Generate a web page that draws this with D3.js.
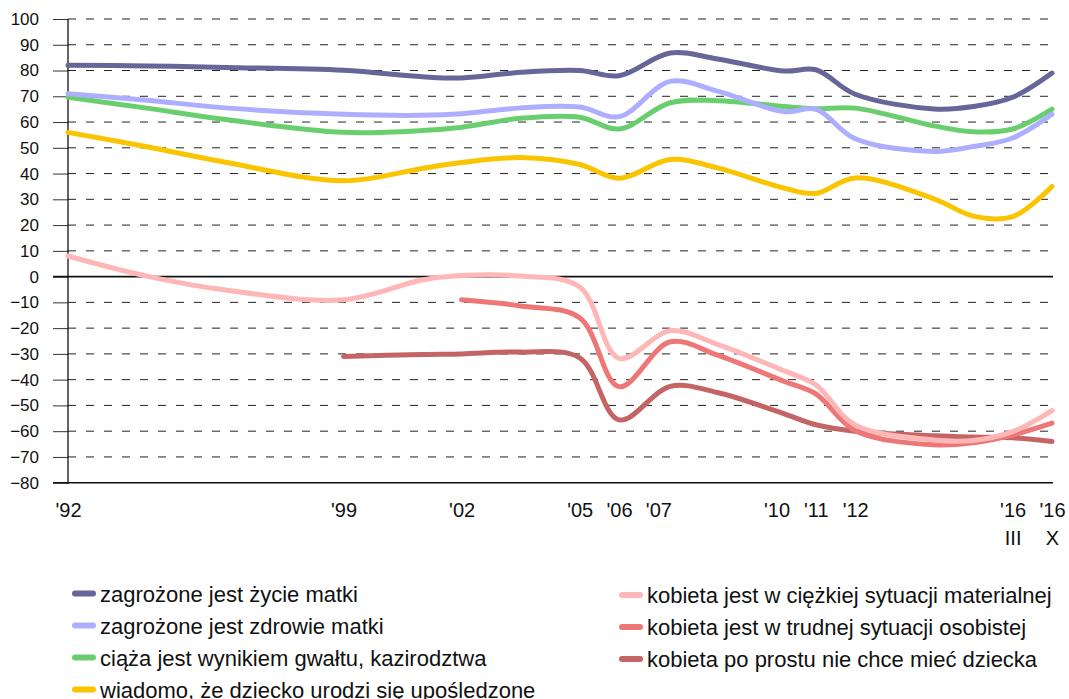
<!DOCTYPE html>
<html>
<head>
<meta charset="utf-8">
<script src="https://cdn.jsdelivr.net/npm/d3@7"></script>
<style>
  html, body { margin: 0; padding: 0; background: #fff; }
  svg { display: block; font-family: "Liberation Sans", Arial, sans-serif; }
</style>
</head>
<body>
<svg id="chart" width="1069" height="699"></svg>
<script>
// ---- data ----
const periods = [1992, 1994, 1996, 1999, 2001, 2002, 2003.5, 2005, 2006, 2007.3, 2008.5, 2010.2, 2011, 2012, 2014, 2015, 2016, 2017];

const zycieMatki     = [82, 81.8, 81.2, 80.1, 77.6, 77.1, 79.3, 80, 78, 86.8, 84.5, 79.8, 80.3, 70.8, 65.1, 66, 69.6, 79];
const zdrowieMatki   = [71, 68.5, 65.5, 63, 62.6, 63.2, 65.5, 65.8, 62.1, 75.8, 72, 64, 65, 53.5, 48.6, 50.5, 53.8, 63];
const gwalt          = [69.6, 65.4, 61, 56, 56.7, 58, 61.5, 61.9, 57.3, 67.5, 68.3, 66, 65.2, 65.4, 58.5, 56.2, 57.3, 65];
const uposledzone    = [56, 50.4, 44.4, 37.2, 42, 44.3, 46.2, 43.5, 38.2, 45.5, 42.2, 34.3, 32.3, 38.3, 30.2, 23.5, 23.3, 35];
const materialna     = [8, 0.2, -5.2, -9, -1.3, 0.4, 0.2, -4, -31.7, -21, -26.3, -36.6, -42, -57.6, -63.4, -63.6, -60.2, -52];
const osobista       = [null, null, null, null, null, -9, -11.4, -16, -42.7, -25.3, -30.5, -40.7, -45.5, -59.8, -65.3, -64.5, -61.5, -56.9];
const nieChce        = [null, null, null, -31, -30.2, -30, -29.3, -31.5, -55.6, -42.6, -45, -53.3, -57.5, -60, -61.8, -62.3, -62.6, -64];

const seriesNames = [
  "zagrożone jest życie matki",
  "zagrożone jest zdrowie matki",
  "ciąża jest wynikiem gwałtu, kazirodztwa",
  "wiadomo, że dziecko urodzi się upośledzone",
  "kobieta jest w ciężkiej sytuacji materialnej",
  "kobieta jest w trudnej sytuacji osobistej",
  "kobieta po prostu nie chce mieć dziecka"
];
const seriesValues = [zycieMatki, zdrowieMatki, gwalt, uposledzone, materialna, osobista, nieChce];
const seriesColors = ["#666699", "#AEAEFF", "#69CF6E", "#FBC400", "#FFB6B6", "#EE7676", "#C46464"];

const xTickPositions = [1992, 1999, 2002, 2005, 2006, 2007, 2010, 2011, 2012, 2016, 2017];
const xTickLabels    = ["'92", "'99", "'02", "'05", "'06", "'07", "'10", "'11", "'12", "'16", "'16"];
const xTickSubLabels = ["", "", "", "", "", "", "", "", "", "III", "X"];
const yTicks = d3.range(-80, 101, 10);

// ---- layout ----
const svg = d3.select("#chart");
const plotLeft = 68, plotRight = 1053, plotTop = 19, plotBottom = 482.7;

const x = d3.scaleLinear().domain([1992, 2017]).range([68, 1052]);
const y = d3.scaleLinear().domain([-80, 100]).range([plotBottom, plotTop]);

// gridlines
const grid = svg.append("g");
yTicks.forEach(v => {
  if (v === 0 || v === -80) return;
  grid.append("line")
    .attr("x1", plotLeft).attr("x2", plotRight)
    .attr("y1", y(v)).attr("y2", y(v))
    .attr("stroke", "#222").attr("stroke-width", 1)
    .attr("stroke-dasharray", "8,10");
});

// y axis (ticks + labels)
const yAxis = d3.axisLeft(y).tickValues(yTicks).tickSize(15).tickPadding(14).tickFormat(d3.format("d"));
const yg = svg.append("g").attr("transform", `translate(${plotLeft},0)`).call(yAxis);
yg.select(".domain").remove();
yg.selectAll(".tick line").attr("stroke", "#333").attr("stroke-width", 1);
yg.selectAll(".tick text").attr("font-size", 17).attr("fill", "#111")
  .attr("font-family", "'Liberation Sans', Arial, sans-serif");

// zero line and bottom line
[0, -80].forEach(v => {
  svg.append("line")
    .attr("x1", plotLeft - 15).attr("x2", plotRight)
    .attr("y1", y(v)).attr("y2", y(v))
    .attr("stroke", "#111").attr("stroke-width", 1.6);
});
// vertical axis line
svg.append("line")
  .attr("x1", plotLeft).attr("x2", plotLeft)
  .attr("y1", plotTop).attr("y2", plotBottom + 1)
  .attr("stroke", "#111").attr("stroke-width", 1.3);

// x axis labels
const xAxis = d3.axisBottom(x).tickValues(xTickPositions).tickSize(0).tickPadding(0)
  .tickFormat((d, i) => xTickLabels[i]);
const xg = svg.append("g").attr("transform", `translate(0,${plotBottom})`).call(xAxis);
xg.select(".domain").remove();
xg.selectAll(".tick text")
  .attr("font-size", 20).attr("fill", "#111")
  .attr("font-family", "'Liberation Sans', Arial, sans-serif")
  .attr("dy", null).attr("y", 34.5)
  .each(function(d, i) {
    if (xTickSubLabels[i]) {
      d3.select(this.parentNode).append("text")
        .attr("fill", "#111").attr("font-size", 20)
        .attr("font-family", "'Liberation Sans', Arial, sans-serif")
        .attr("text-anchor", "middle")
        .attr("y", 62)
        .text(xTickSubLabels[i]);
    }
  });

// lines
const line = d3.line()
  .defined(d => d.v !== null)
  .x(d => x(d.t))
  .y(d => y(d.v))
  .curve(d3.curveCatmullRom.alpha(0.5));

const linesG = svg.append("g");
for (let s = seriesValues.length - 1; s >= 0; s--) {
  const pts = periods.map((t, i) => ({ t, v: seriesValues[s][i] }));
  linesG.append("path")
    .datum(pts)
    .attr("d", line)
    .attr("fill", "none")
    .attr("stroke", seriesColors[s])
    .attr("stroke-width", 5)
    .attr("stroke-linecap", "round")
    .attr("stroke-linejoin", "round");
}

// legend
const legendCols = [
  { x: 73, items: [0, 1, 2, 3], y0: 601.5, dy: 32 },
  { x: 620, items: [4, 5, 6], y0: 603, dy: 32 }
];
const lg = svg.append("g");
legendCols.forEach(col => {
  col.items.forEach((s, k) => {
    const by = col.y0 + k * col.dy;
    lg.append("line")
      .attr("x1", col.x + 2).attr("x2", col.x + 20)
      .attr("y1", by - 8).attr("y2", by - 8)
      .attr("stroke", seriesColors[s]).attr("stroke-width", 6)
      .attr("stroke-linecap", "round");
    lg.append("text")
      .attr("x", col.x + 27).attr("y", by)
      .attr("font-size", 22).attr("fill", "#111")
      .text(seriesNames[s]);
  });
});
</script>
</body>
</html>
